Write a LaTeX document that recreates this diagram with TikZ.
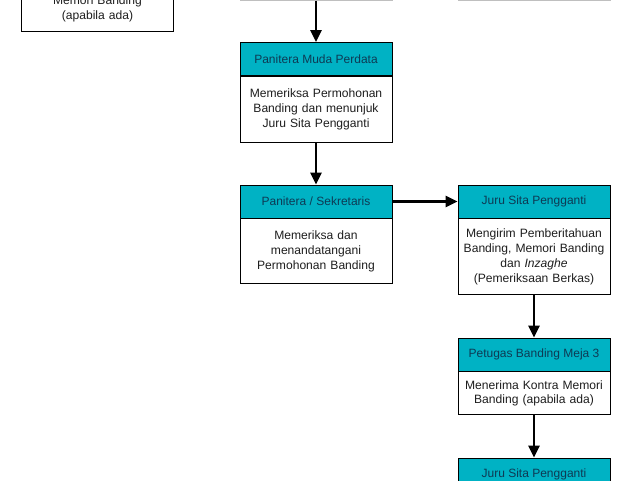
\documentclass[tikz,border=0pt]{standalone}
\usepackage{fontspec}
\setmainfont{Liberation Sans}
\usepackage{tikz}
\usetikzlibrary{arrows.meta,calc}
\definecolor{hd_teal}{RGB}{0, 178, 196}
\definecolor{hd_text}{RGB}{14, 58, 84}
\definecolor{bd_text}{RGB}{30, 30, 30}
\tikzstyle{hd}=[rectangle,fill=hd_teal,draw=black,line width=0.8pt,
  minimum width=152pt,minimum height=33pt,inner sep=2pt,
  text=hd_text,font=\fontsize{12}{15}\selectfont]
\tikzstyle{bd}=[rectangle,fill=white,draw=black,line width=0.8pt,
  minimum width=152pt,text width=148pt,align=center,inner xsep=2pt,inner ysep=6pt,
  text=bd_text,font=\fontsize{12.1}{14.8}\selectfont,anchor=north]
\tikzstyle{arr}=[line width=2.8pt,-{Triangle[length=12pt,width=11pt]}]

\begin{document}
\begin{tikzpicture}[x=1pt,y=-1pt]
    \useasboundingbox (0,0) rectangle (634,480);
    \clip (0,0) rectangle (634,480);
            \node [style=bd,anchor=south,inner ysep=10pt] (mb) at (97.5, 32) {Memori Banding\\(apabila ada)};
            \node [style=bd,anchor=south,minimum height=60pt,draw=black!25] (top1) at (316, 0.6) {};
            \node [style=bd,anchor=south,minimum height=60pt,draw=black!25] (top2) at (534, 0.6) {};
            \node [style=hd] (pmp) at (316, 59) {Panitera Muda Perdata};
            \node [style=bd,minimum height=66pt] (pmpb) at (pmp.south) {Memeriksa Permohonan\\Banding dan menunjuk\\Juru Sita Pengganti};
            \node [style=hd] (ps) at (316, 201.5) {Panitera / Sekretaris};
            \node [style=bd,minimum height=65pt] (psb) at (ps.south) {Memeriksa dan\\menandatangani\\Permohonan Banding};
            \node [style=hd] (jsp) at (534, 201.5) {Juru Sita Pengganti};
            \node [style=bd,minimum height=76pt] (jspb) at (jsp.south) {Mengirim Pemberitahuan\\Banding, Memori Banding\\dan \textit{Inzaghe}\\(Pemeriksaan Berkas)};
            \node [style=hd] (pbm) at (534, 354.5) {Petugas Banding Meja 3};
            \node [style=bd,minimum height=43pt] (pbmb) at (pbm.south) {Menerima Kontra Memori\\Banding (apabila ada)};
            \node [style=hd] (jsp2) at (534, 474.5) {Juru Sita Pengganti};
            \draw [style=arr] (top1.south) to (pmp.north);
            \draw [style=arr] (pmpb.south) to (ps.north);
            \draw [style=arr] (ps.east) to (jsp.west);
            \draw [style=arr] (jspb.south) to (pbm.north);
            \draw [style=arr] (pbmb.south) to (jsp2.north);
    \end{tikzpicture}
\end{document}
